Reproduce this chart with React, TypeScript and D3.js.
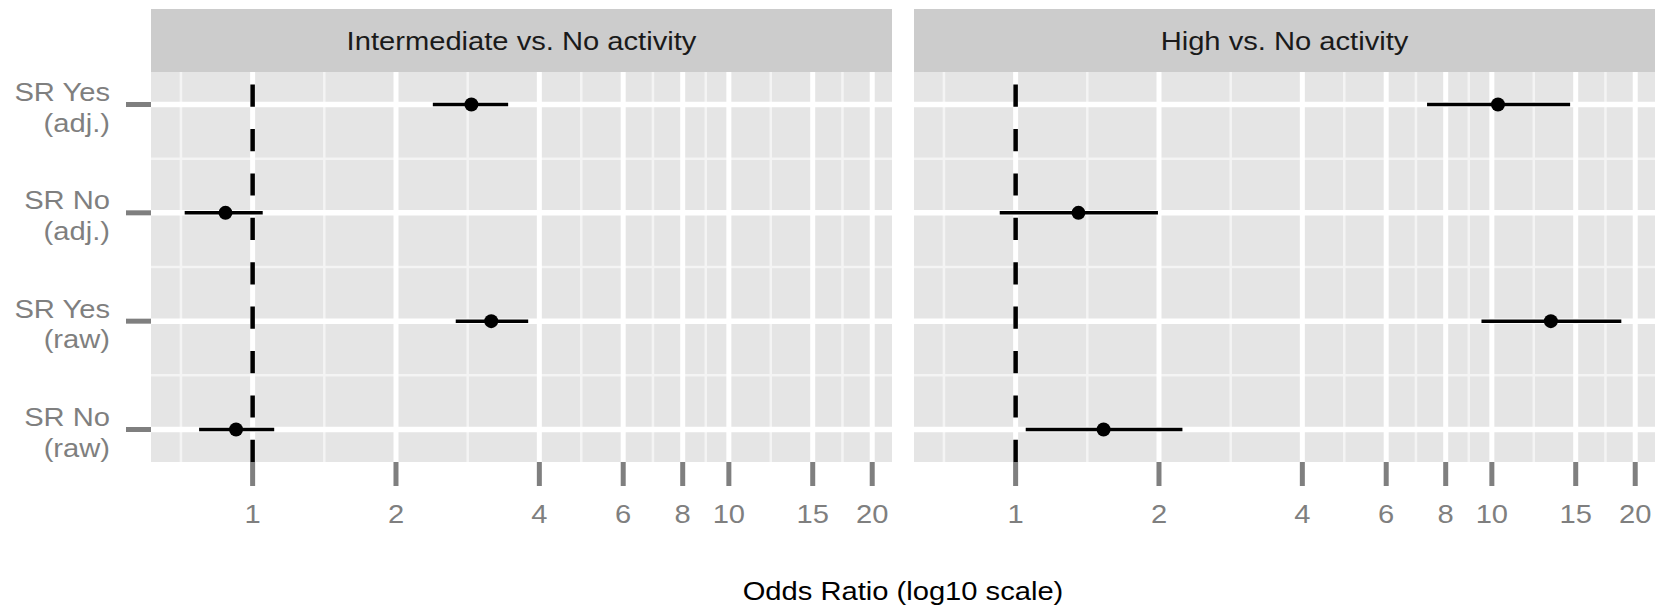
import * as d3 from 'd3'

const W = 1670, H = 609
const STRIP_TOP = 9, TOP = 72, BOTTOM = 462
const PANEL_LEFT = [151, 914], PANEL_W = 741
const FONT = '"Liberation Sans", Arial, sans-serif'
const SX = 1.1 // the reference text is a little wider than its height suggests

const panels = ['Intermediate vs. No activity', 'High vs. No activity']
const rows = ['SR Yes\n(adj.)', 'SR No\n(adj.)', 'SR Yes\n(raw)', 'SR No\n(raw)']

// odds ratio and interval per row, one set per panel
const interOR = [2.88, 0.877, 3.17, 0.923]
const interLo = [2.39, 0.72, 2.67, 0.772]
const interHi = [3.44, 1.05, 3.79, 1.11]
const highOR = [10.3, 1.355, 13.3, 1.53]
const highLo = [7.31, 0.926, 9.51, 1.05]
const highHi = [14.6, 1.99, 18.7, 2.24]

const xBreaks = [1, 2, 4, 6, 8, 10, 15, 20]
const belowBreak = 0.5 // off-panel break, only used for the minor grid

const series = [
  { or: interOR, lo: interLo, hi: interHi },
  { or: highOR, lo: highLo, hi: highHi },
]

function Txt({ x, y, anchor = 'middle', size = 26.5, fill = '#7f7f7f', children }: any) {
  return (
    <text transform={`translate(${x},${y}) scale(${SX},1)`} textAnchor={anchor}
      fontFamily={FONT} fontSize={size} fill={fill}>{children}</text>
  )
}

export default function App() {
  // shared log x scale, ggplot-like 5% expansion around the data
  const lo = d3.min([...interLo, ...highLo])!, hi = d3.max([...interHi, ...highHi])!
  const l0 = Math.log10(lo), l1 = Math.log10(hi), pad = (l1 - l0) * 0.05
  const x = d3.scaleLog().domain([10 ** (l0 - pad), 10 ** (l1 + pad)]).range([0, PANEL_W])

  const y = d3.scalePoint<string>().domain(rows).range([TOP, BOTTOM]).padding(0.3)

  const allBreaks = [belowBreak, ...xBreaks]
  const minor = d3.pairs(allBreaks).map(([a, b]) => Math.sqrt(a * b))

  return (
    <svg width={W} height={H} viewBox={`0 0 ${W} ${H}`}
      style={{ position: 'absolute', left: 0, top: 0, background: '#fff' }}>
      {panels.map((name, pi) => {
        const x0 = PANEL_LEFT[pi]
        const s = series[pi]
        return (
          <g key={name} transform={`translate(${x0},0)`}>
            <rect x={0} y={STRIP_TOP} width={PANEL_W} height={TOP - STRIP_TOP} fill="#cccccc" />
            <Txt x={PANEL_W / 2} y={50} fill="#1a1a1a">{name}</Txt>
            <rect x={0} y={TOP} width={PANEL_W} height={BOTTOM - TOP} fill="#e5e5e5" />
            {/* minor grid */}
            {minor.map(v => (
              <line key={'mx' + v} x1={x(v)} x2={x(v)} y1={TOP} y2={BOTTOM}
                stroke="#f4f4f4" strokeWidth={2.5} />
            ))}
            {rows.slice(1).map((r, i) => {
              const yy = (y(rows[i])! + y(r)!) / 2
              return <line key={'my' + r} x1={0} x2={PANEL_W} y1={yy} y2={yy} stroke="#f4f4f4" strokeWidth={2.5} />
            })}
            {/* major grid */}
            {xBreaks.map(v => (
              <line key={'Mx' + v} x1={x(v)} x2={x(v)} y1={TOP} y2={BOTTOM} stroke="#fff" strokeWidth={5} />
            ))}
            {rows.map(r => (
              <line key={'My' + r} x1={0} x2={PANEL_W} y1={y(r)} y2={y(r)} stroke="#fff" strokeWidth={5.5} />
            ))}
            {/* reference line at OR = 1, dashes start from the bottom */}
            <line x1={x(1)} x2={x(1)} y1={BOTTOM} y2={TOP} stroke="#000" strokeWidth={4.5}
              strokeDasharray="22.2,22.2" />
            {rows.map((r, i) => (
              <g key={'e' + r}>
                <line x1={x(s.lo[i])} x2={x(s.hi[i])} y1={y(r)} y2={y(r)} stroke="#000" strokeWidth={3.5} />
                <circle cx={x(s.or[i])} cy={y(r)} r={7} fill="#000" />
              </g>
            ))}
            {/* x axis */}
            {xBreaks.map(v => (
              <g key={'t' + v}>
                <line x1={x(v)} x2={x(v)} y1={BOTTOM} y2={BOTTOM + 24} stroke="#7f7f7f" strokeWidth={5} />
                <Txt x={x(v)} y={523}>{String(v)}</Txt>
              </g>
            ))}
          </g>
        )
      })}
      {/* y axis on the first panel only */}
      {rows.map(r => {
        const [a, b] = r.split('\n')
        const yy = y(r)!
        return (
          <g key={'yl' + r}>
            <line x1={126} x2={PANEL_LEFT[0]} y1={yy} y2={yy} stroke="#7f7f7f" strokeWidth={5} />
            <Txt x={110} y={yy - 3.5} anchor="end">{a}</Txt>
            <Txt x={110} y={yy + 27} anchor="end">{b}</Txt>
          </g>
        )
      })}
      <Txt x={(PANEL_LEFT[0] + PANEL_LEFT[1] + PANEL_W) / 2} y={600} fill="#000">Odds Ratio (log10 scale)</Txt>
    </svg>
  )
}
